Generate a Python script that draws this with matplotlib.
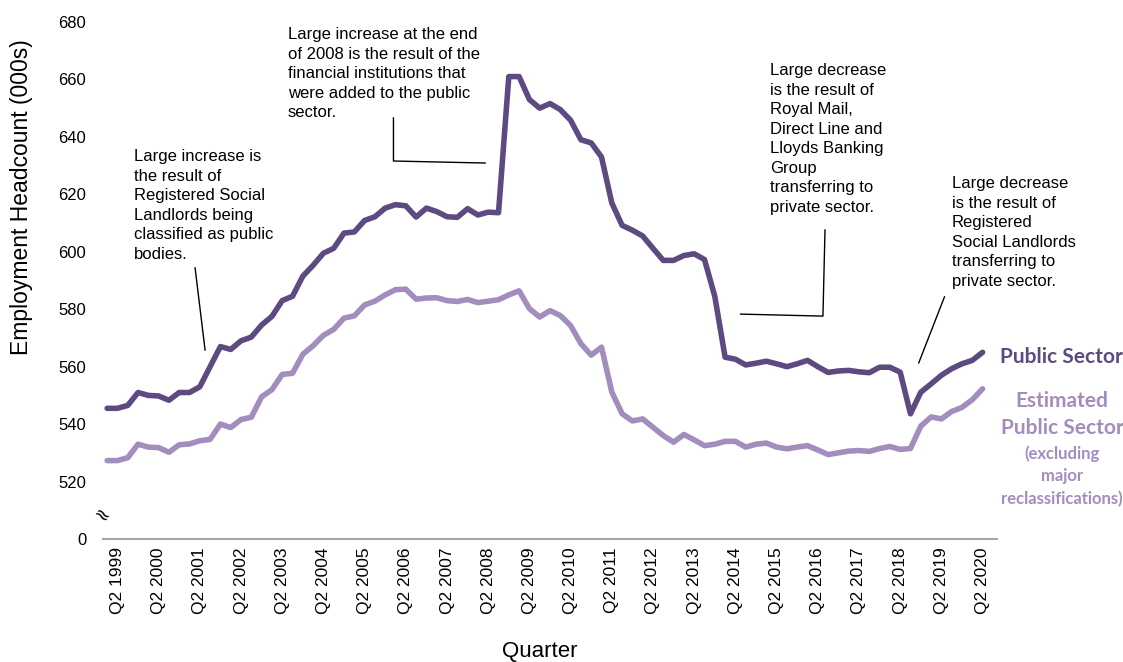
import matplotlib

matplotlib.use("Agg")
import matplotlib.pyplot as plt

W, H = 1123, 662

# quarterly series, Q1 1999 .. Q2 2020 (thousands)
public_sector = [
    545.5, 545.5, 546.5, 551.0, 550.0, 549.8, 548.3, 551.0, 551.0, 553.0,
    560.0, 567.0, 566.0, 569.0, 570.3, 574.5, 577.5, 583.0, 584.5, 591.5,
    595.3, 599.5, 601.2, 606.5, 606.9, 610.9, 612.2, 615.2, 616.4, 616.0,
    612.1, 615.2, 614.0, 612.2, 612.0, 615.0, 612.8, 613.8, 613.6, 661.0,
    661.0, 653.0, 650.0, 651.6, 649.5, 645.8, 639.0, 637.9, 633.0, 617.0,
    609.2, 607.5, 605.5, 601.2, 597.0, 597.0, 598.7, 599.3, 597.3, 584.5,
    563.3, 562.6, 560.6, 561.2, 561.9, 561.0, 560.0, 561.0, 562.2, 560.0,
    558.0, 558.5, 558.7, 558.2, 557.9, 559.8, 559.8, 558.1, 543.6, 551.1,
    554.0, 557.0, 559.3, 561.0, 562.2, 565.0,
]
estimated_public = [
    527.3, 527.3, 528.3, 533.0, 532.0, 531.8, 530.2, 532.8, 533.1, 534.2,
    534.7, 540.0, 538.8, 541.6, 542.4, 549.5, 552.0, 557.3, 557.7, 564.3,
    567.3, 570.9, 573.0, 576.9, 577.7, 581.5, 582.8, 585.0, 586.8, 587.0,
    583.5, 583.9, 584.0, 583.0, 582.7, 583.4, 582.3, 582.8, 583.3, 585.0,
    586.4, 580.2, 577.3, 579.5, 577.8, 574.3, 568.0, 564.0, 566.8, 551.2,
    543.6, 541.1, 541.8, 538.9, 536.0, 533.7, 536.4, 534.5, 532.5, 533.0,
    534.0, 534.0, 532.0, 533.0, 533.4, 532.0, 531.4, 532.0, 532.5, 531.0,
    529.4, 530.0, 530.6, 530.8, 530.5, 531.5, 532.2, 531.2, 531.5, 539.3,
    542.5, 541.8, 544.4, 545.8, 548.5, 552.3,
]
quarters = [f"Q{(i % 4) + 1} {1999 + i // 4}" for i in range(len(public_sector))]
tick_labels = [f"Q2 {y}" for y in range(1999, 2021)]
tick_pos = [quarters.index(t) for t in tick_labels]
y_ticks = [500, 520, 540, 560, 580, 600, 620, 640, 660, 680]
y_tick_labels = ["0"] + [str(v) for v in y_ticks[1:]]

DARK = "#5c4a80"
LIGHT = "#a38cbe"

plt.rcParams["font.family"] = ["Liberation Sans", "DejaVu Sans"]

fig = plt.figure(figsize=(W / 100, H / 100), dpi=100)
ax = fig.add_axes([103 / W, 1 - 539 / H, (997 - 103) / W, (539 - 22) / H])

x = list(range(len(public_sector)))
ax.plot(x, public_sector, color=DARK, lw=4.0, solid_joinstyle="round", solid_capstyle="round")
ax.plot(x, estimated_public, color=LIGHT, lw=4.0, solid_joinstyle="round", solid_capstyle="round")

ax.set_xlim(-0.4, 86.4)
ax.set_ylim(500, 680)
ax.set_yticks(y_ticks)
ax.set_yticklabels(y_tick_labels, fontsize=12)
ax.set_xticks(tick_pos)
ax.set_xticklabels(tick_labels, rotation=90, fontsize=12.5)
ax.tick_params(axis="both", length=0)
ax.tick_params(axis="y", pad=12)
ax.tick_params(axis="x", pad=6)
for s in ["top", "right", "left"]:
    ax.spines[s].set_visible(False)
ax.spines["bottom"].set_color("#a6a6a6")
ax.spines["bottom"].set_linewidth(1.5)

fig.text(22 / W, 1 - 197 / H, "Employment Headcount (000s)", rotation=90,
         ha="center", va="center", fontsize=16.5)
fig.text(540 / W, 1 - 652 / H, "Quarter", ha="center", va="center", fontsize=16)

# axis break marker
fig.text(101 / W, 1 - 516 / H, "≈", rotation=-35, ha="center", va="center",
         fontsize=14, family="DejaVu Sans")

# annotations
notes = [
    (134, 149, "Large increase is\nthe result of\nRegistered Social\nLandlords being\nclassified as public\nbodies."),
    (288, 27, "Large increase at the end\nof 2008 is the result of the\nfinancial institutions that\nwere added to the public\nsector."),
    (770, 63, "Large decrease\nis the result of\nRoyal Mail,\nDirect Line and\nLloyds Banking\nGroup\ntransferring to\nprivate sector."),
    (952, 176, "Large decrease\nis the result of\nRegistered\nSocial Landlords\ntransferring to\nprivate sector."),
]
for nx, ny, txt in notes:
    fig.text(nx / W, 1 - ny / H, txt, ha="left", va="top", fontsize=12, linespacing=1.38)

callouts = [
    ([8.54, 9.51], [594.4, 565.8]),
    ([27.8, 27.8, 36.7], [646.6, 631.6, 630.9]),
    ([69.7, 69.5, 61.5], [607.6, 577.6, 578.3]),
    ([81.3, 78.8], [584.3, 561.3]),
]
for cx, cy in callouts:
    ax.plot(cx, cy, color="black", lw=1.0)

# series labels
fig.text(1000 / W, 1 - 357 / H, "Public Sector", ha="left", va="center",
         fontsize=15, fontweight="bold", color=DARK, family="Lato")
fig.text(1062 / W, 1 - 414.5 / H, "Estimated\nPublic Sector", ha="center", va="center",
         fontsize=15, fontweight="bold", color=LIGHT, family="Lato", linespacing=1.4)
fig.text(1062 / W, 1 - 476 / H, "(excluding\nmajor\nreclassifications)", ha="center", va="center",
         fontsize=12, fontweight="bold", color=LIGHT, family="Lato", linespacing=1.5)

fig.savefig("out.png", dpi=100)
